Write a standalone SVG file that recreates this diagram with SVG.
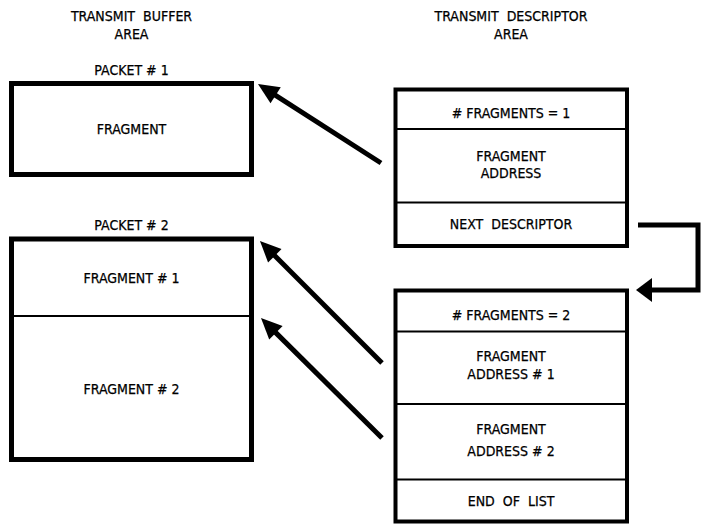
<svg xmlns="http://www.w3.org/2000/svg" width="703" height="527" viewBox="0 0 703 527">
  <style>
    text { font-family: "DejaVu Sans Condensed", "DejaVu Sans", "Liberation Sans", sans-serif; font-stretch: condensed; font-size: 14px; fill: #000; stroke: #000; stroke-width: 0.25; text-anchor: middle; }
    .ws { word-spacing: 4px; }
    .box { fill: #fff; stroke: #000; stroke-width: 5; }
    .desc { fill: #fff; stroke: #000; stroke-width: 4; }
    .div { stroke: #000; stroke-width: 2; }
    .conn { fill: none; stroke: #000; stroke-width: 5; }
  </style>
  <defs>
    <marker id="head" markerUnits="userSpaceOnUse" orient="auto" refX="0" refY="0" overflow="visible">
      <path d="M-1,-9.5 L20,0 L-1,9.5 z" fill="#000"/>
    </marker>
    <marker id="head2" markerUnits="userSpaceOnUse" orient="auto" refX="0" refY="0" overflow="visible">
      <path d="M-1,-12 L15,0 L-1,12 z" fill="#000"/>
    </marker>
  </defs>
  <rect width="703" height="527" fill="#fff"/>

  <g id="titles">
    <text class="ws" x="131.5" y="21">TRANSMIT BUFFER</text>
    <text x="131.5" y="39">AREA</text>
    <text class="ws" x="511" y="21">TRANSMIT DESCRIPTOR</text>
    <text x="511" y="39">AREA</text>
  </g>

  <g id="packet1">
    <text x="131.5" y="75">PACKET # 1</text>
    <rect class="box" x="11.5" y="83.5" width="240" height="91"/>
    <text x="131.5" y="134">FRAGMENT</text>
  </g>

  <g id="packet2">
    <text x="131.5" y="230">PACKET # 2</text>
    <rect class="box" x="11.5" y="239" width="240" height="220.5"/>
    <line class="div" x1="11.5" y1="316" x2="251.5" y2="316"/>
    <text x="131.5" y="282.5">FRAGMENT # 1</text>
    <text x="131.5" y="394">FRAGMENT # 2</text>
  </g>

  <g id="descriptor1">
    <rect class="desc" x="395.5" y="89.5" width="231.5" height="156.5"/>
    <line class="div" x1="395.5" y1="129" x2="627" y2="129"/>
    <line class="div" x1="395.5" y1="202.5" x2="627" y2="202.5"/>
    <text x="511" y="117.5"># FRAGMENTS = 1</text>
    <text x="511" y="160.5">FRAGMENT</text>
    <text x="511" y="177.5">ADDRESS</text>
    <text class="ws" x="511" y="229">NEXT DESCRIPTOR</text>
  </g>

  <g id="descriptor2">
    <rect class="desc" x="395.5" y="290.5" width="231.5" height="231"/>
    <line class="div" x1="395.5" y1="331.5" x2="627" y2="331.5"/>
    <line class="div" x1="395.5" y1="404" x2="627" y2="404"/>
    <line class="div" x1="395.5" y1="479.5" x2="627" y2="479.5"/>
    <text x="511" y="320"># FRAGMENTS = 2</text>
    <text x="511" y="360.5">FRAGMENT</text>
    <text x="511" y="378.5">ADDRESS # 1</text>
    <text x="511" y="434">FRAGMENT</text>
    <text x="511" y="455.5">ADDRESS # 2</text>
    <text class="ws" x="511" y="506">END OF LIST</text>
  </g>

  <g id="connectors">
    <line class="conn" x1="381" y1="163" x2="274.8" y2="94.8" marker-end="url(#head)"/>
    <line class="conn" x1="382" y1="363" x2="274.1" y2="255.1" marker-end="url(#head)"/>
    <line class="conn" x1="382" y1="438" x2="275.2" y2="332.1" marker-end="url(#head)"/>
    <path class="conn" d="M638,225 H698 V290 H651" stroke-linejoin="miter" marker-end="url(#head2)"/>
  </g>
</svg>
